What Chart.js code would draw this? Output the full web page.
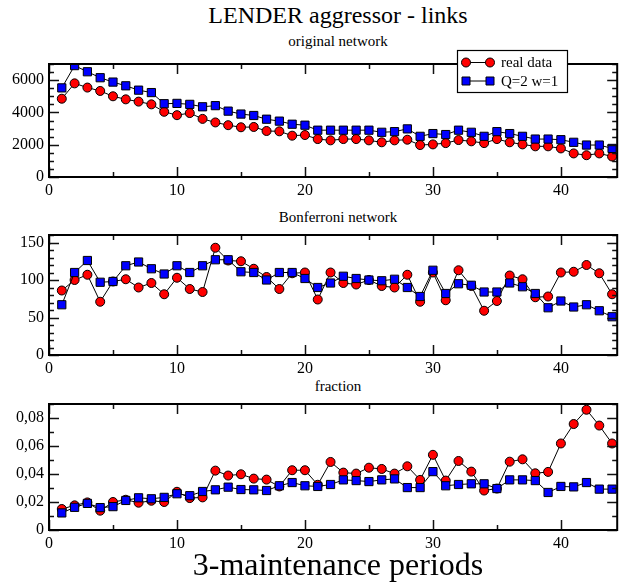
<!DOCTYPE html>
<html>
<head>
<meta charset="utf-8">
<script src="https://cdn.jsdelivr.net/npm/chart.js@4/dist/chart.umd.min.js"></script>
<style>
  body { margin: 0; width: 621px; height: 585px; overflow: hidden; background: #fff; position: relative; font-family: 'Liberation Serif', serif; }
  canvas { position: absolute; left: 0; }
  .t { position: absolute; left: 0; width: 676px; text-align: center; color: #000; white-space: nowrap; }
</style>
</head>
<body>
<div class="t" style="top:3px;font-size:24px;line-height:24px">LENDER aggressor - links</div>
<div class="t" style="top:34px;font-size:15px;line-height:15px">original network</div>
<div class="t" style="top:210px;font-size:15px;line-height:15px">Bonferroni network</div>
<div class="t" style="top:379px;font-size:15px;line-height:15px">fraction</div>
<canvas id="c1" width="624" height="155" style="top:44px"></canvas>
<canvas id="c2" width="624" height="162" style="top:215px"></canvas>
<canvas id="c3" width="624" height="168" style="top:384px"></canvas>
<div class="t" style="top:548px;font-size:32px;line-height:32px">3-maintenance periods</div>
<script>
// periods on the x axis
const periods = [1, 2, 3, 4, 5, 6, 7, 8, 9, 10, 11, 12, 13, 14, 15, 16, 17, 18, 19, 20, 21, 22,
  23, 24, 25, 26, 27, 28, 29, 30, 31, 32, 33, 34, 35, 36, 37, 38, 39, 40, 41, 42, 43, 44];

// original network - links
const origReal = [4850, 5800, 5540, 5330, 5000, 4810, 4670, 4500, 4040, 3830,
  3960, 3600, 3380, 3210, 3080, 3100, 2850, 2830, 2560, 2600,
  2350, 2270, 2350, 2350, 2270, 2150, 2270, 2310, 1980, 2020,
  2100, 2290, 2210, 2100, 2350, 2150, 2020, 1900, 1900, 1770,
  1460, 1350, 1460, 1270];
const origModel = [5520, 6900, 6520, 6150, 5880, 5650, 5380, 5230, 4540, 4560,
  4500, 4350, 4420, 4080, 3900, 3810, 3580, 3460, 3270, 3210,
  2900, 2900, 2900, 2900, 2900, 2770, 2810, 2980, 2520, 2690,
  2630, 2900, 2770, 2520, 2810, 2690, 2520, 2350, 2350, 2310,
  2150, 1980, 1980, 1770];

// Bonferroni network - links
const bonfReal = [86, 100, 107, 71, 98, 101, 90, 96, 81, 103,
  88, 84, 143, 126, 125, 115, 104, 88, 109, 110,
  74, 110, 96, 94, 100, 92, 90, 107, 71, 110,
  73, 113, 92, 59, 72, 106, 101, 77, 78, 110,
  111, 120, 109, 81];
const bonfModel = [67, 110, 126, 97, 98, 119, 124, 115, 108, 119,
  110, 119, 127, 127, 111, 110, 100, 110, 110, 102,
  90, 96, 105, 102, 100, 99, 101, 90, 78, 113,
  82, 95, 93, 84, 84, 96, 91, 82, 63, 72,
  64, 67, 59, 51];

// fraction
const fracReal = [0.0150, 0.0176, 0.0197, 0.0138, 0.0200, 0.0216, 0.0195, 0.0209, 0.0200, 0.0273,
  0.0228, 0.0233, 0.0424, 0.0389, 0.0398, 0.0367, 0.0360, 0.0311, 0.0427, 0.0427,
  0.0323, 0.0486, 0.0410, 0.0403, 0.0445, 0.0436, 0.0403, 0.0455, 0.0358, 0.0537,
  0.0353, 0.0493, 0.0417, 0.0282, 0.0296, 0.0488, 0.0505, 0.0405, 0.0415, 0.0618,
  0.0757, 0.0859, 0.0746, 0.0618];
const fracModel = [0.0122, 0.0162, 0.0190, 0.0160, 0.0167, 0.0211, 0.0230, 0.0223, 0.0233, 0.0259,
  0.0245, 0.0275, 0.0287, 0.0306, 0.0289, 0.0287, 0.0282, 0.0316, 0.0339, 0.0316,
  0.0311, 0.0325, 0.0358, 0.0353, 0.0346, 0.0358, 0.0365, 0.0303, 0.0303, 0.0417,
  0.0316, 0.0325, 0.0330, 0.0330, 0.0296, 0.0358, 0.0358, 0.0353, 0.0268, 0.0311,
  0.0308, 0.0339, 0.0292, 0.0292];

const seriesNames = ['real data', 'Q=2 w=1'];

// tick labels
const xTicks = [0, 10, 20, 30, 40];
const origTicks = [0, 2000, 4000, 6000];
const bonfTicks = [0, 50, 100, 150];
const fracTicks = [0, 0.02, 0.04, 0.06, 0.08];

Chart.defaults.font.family = "'Liberation Serif', serif";
Chart.defaults.font.size = 16;
Chart.defaults.color = '#000';

const pts = arr => arr.map((v, i) => ({ x: periods[i], y: v }));

// frame + inward ticks, xmgrace style
const framePlugin = {
  id: 'frame',
  afterDraw(chart) {
    const { ctx, chartArea: a, scales } = chart;
    const o = chart.options.plugins.frame;
    ctx.save();
    ctx.strokeStyle = '#111';
    ctx.lineWidth = 1.5;
    ctx.beginPath();
    for (let v = 0; v <= scales.x.max + 1e-9; v += 5) {
      const px = Math.round(scales.x.getPixelForValue(v)) + 0.5;
      const len = v % 10 === 0 ? 10 : 5;
      ctx.moveTo(px, a.bottom); ctx.lineTo(px, a.bottom - len);
      ctx.moveTo(px, a.top); ctx.lineTo(px, a.top + len);
    }
    const n = Math.round(scales.y.max / o.minor);
    for (let k = 0; k <= n; k++) {
      const v = k * o.minor;
      const py = Math.round(scales.y.getPixelForValue(v)) + 0.5;
      const len = k % o.every === 0 ? 10 : 5;
      ctx.moveTo(a.left, py); ctx.lineTo(a.left + len, py);
      ctx.moveTo(a.right, py); ctx.lineTo(a.right - len, py);
    }
    ctx.stroke();
    ctx.strokeStyle = '#000';
    ctx.lineWidth = 2;
    ctx.strokeRect(a.left, a.top, a.right - a.left, a.bottom - a.top);

    if (o.legend) {
      ctx.fillStyle = '#fff';
      ctx.fillRect(457, 6, 111, 43);
      ctx.lineWidth = 1.2;
      ctx.strokeStyle = '#000';
      ctx.strokeRect(457.5, 6.5, 110, 42);
      chart.data.datasets.forEach((ds, i) => {
        const y = i === 0 ? 18.5 : 37;
        ctx.lineWidth = 1;
        ctx.strokeStyle = '#000';
        ctx.beginPath(); ctx.moveTo(466, y); ctx.lineTo(490, y); ctx.stroke();
        [466, 490].forEach(x => {
          ctx.fillStyle = ds.pointBackgroundColor;
          ctx.beginPath();
          if (ds.pointStyle === 'rect') ctx.rect(x - 4, y - 4, 8, 8);
          else ctx.arc(x, y, 4.5, 0, Math.PI * 2);
          ctx.fill(); ctx.stroke();
        });
        ctx.fillStyle = '#000';
        ctx.font = "15px 'Liberation Serif', serif";
        ctx.textBaseline = 'middle';
        ctx.fillText(ds.label, 501, y + 1);
      });
    }
    ctx.restore();
  }
};

function makePanel(id, real, model, yMax, yTicks, minor, every, fmt, legend) {
  new Chart(document.getElementById(id), {
    type: 'scatter',
    data: {
      datasets: [
        { label: seriesNames[0], data: pts(real), showLine: true, order: 1,
          borderColor: '#000', borderWidth: 1, pointStyle: 'circle', pointRadius: 4.5,
          pointBackgroundColor: '#ff0000', pointBorderColor: '#000', pointBorderWidth: 1 },
        { label: seriesNames[1], data: pts(model), showLine: true, order: 0,
          borderColor: '#000', borderWidth: 1, pointStyle: 'rect', pointRadius: 5.8,
          pointBackgroundColor: '#0000ff', pointBorderColor: '#000', pointBorderWidth: 1 }
      ]
    },
    options: {
      responsive: false,
      animation: false,
      devicePixelRatio: 1,
      layout: { padding: { top: 20, right: 1, left: 0, bottom: 0 } },
      plugins: {
        legend: { display: false },
        tooltip: { enabled: false },
        frame: { minor: minor, every: every, legend: legend }
      },
      scales: {
        x: {
          type: 'linear', min: 0, max: 44.4,
          afterBuildTicks: s => { s.ticks = xTicks.map(v => ({ value: v })); },
          afterFit: s => { s.height = 22; },
          grid: { display: false, drawTicks: false },
          border: { display: false },
          ticks: { padding: 4, autoSkip: false, maxRotation: 0, callback: v => String(v) }
        },
        y: {
          min: 0, max: yMax,
          afterBuildTicks: s => { s.ticks = yTicks.map(v => ({ value: v })); },
          afterFit: s => { s.width = 49; },
          grid: { display: false, drawTicks: false },
          border: { display: false },
          ticks: { padding: 5, autoSkip: false, callback: fmt }
        }
      }
    },
    plugins: [framePlugin]
  });
}

makePanel('c1', origReal, origModel, 7000, origTicks, 500, 4, v => String(v), true);
makePanel('c2', bonfReal, bonfModel, 160, bonfTicks, 10, 5, v => String(v), false);
makePanel('c3', fracReal, fracModel, 0.09, fracTicks, 0.01, 2,
  v => v === 0 ? '0' : v.toFixed(2).replace('.', ','), false);
</script>
</body>
</html>
